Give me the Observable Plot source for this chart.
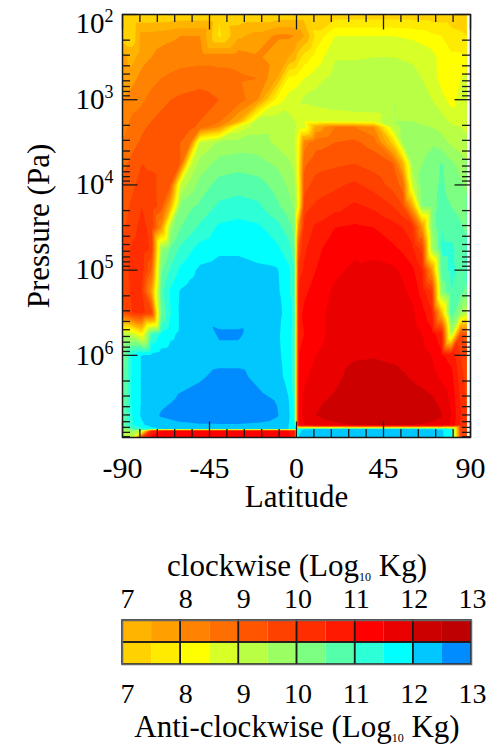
<!DOCTYPE html>
<html>
<head>
<meta charset="utf-8">
<script src="https://cdn.jsdelivr.net/npm/d3@7"></script>
<script src="https://cdn.jsdelivr.net/npm/@observablehq/plot@0.6"></script>
<style>
  body { margin: 0; background: #fff; }
  #chart { width: 495px; }
  #chart svg { display: block; }
</style>
</head>
<body>
<div id="chart"></div>
<script>
// Sample columns (degrees latitude)
const latitudes = [-90, -85, -80, -75, -70, -65, -60, -55, -50, -40, -30, -20, -10, -4, -1, 1, 4, 10, 20, 30, 40, 50, 55, 60, 65, 70, 75, 80, 85, 88];

// Sample rows: log10 of pressure in Pa (top of the domain to the surface)
const levelExponents = [2, 2.25, 2.5, 2.75, 3, 3.25, 3.32, 3.5, 3.75, 4, 4.25, 4.5, 4.75, 5, 5.25, 5.5, 5.75, 6, 6.25, 6.5, 6.7, 6.82, 6.865, 6.885, 6.964];

// Meridional overturning mass, log10 Kg, signed: > 0 clockwise, < 0 anti-clockwise
const circulation = [
  [-7.45, -7.45, -7.45, -7.45, -7.45, -7.45, -7.4, -7.4, -7.4, -7.45, -7.4, -7.4, -7.4, -7.35, -7.3, -7.3, -7.25, -7.2, -7.2, -7.2, -7.2, -7.2, -7.2, -7.2, -7.2, -7.2, -7.2, -7.2, -7.2, -7.2],
  [-7.3, -7.35, 7.7, 7.7, 7.8, 7.9, 8.0, 8.0, 8.0, -7.6, 7.4, 7.7, 8.1, 8.1, 8.0, 7.8, 7.5, -7.6, -8.5, -8.5, -8.5, -8.5, -8.45, -8.4, -8.3, -8.1, -8.0, -7.7, -7.6, -7.5],
  [7.7, 7.3, 7.8, 8.0, 8.2, 8.25, 8.3, 8.3, 8.3, 8.3, 8.3, 8.1, 7.7, 7.5, 7.3, -7.3, -7.7, -8.2, -8.95, -8.95, -9.0, -9.0, -8.95, -8.9, -8.8, -8.7, -8.3, -8.1, -8.1, -8.0],
  [7.8, 7.8, 8.2, 8.3, 8.5, 8.6, 8.7, 8.75, 8.8, 8.7, 8.6, 8.5, 7.5, -8.1, -8.2, -8.3, -8.5, -8.8, -9.2, -9.3, -9.3, -9.35, -9.3, -9.2, -9.0, -8.8, -8.3, -8.1, -8.5, -8.6],
  [8.0, 8.3, 8.4, 8.7, 8.9, 9.0, 9.1, 9.15, 9.2, 9.0, 8.8, 8.0, -8.2, -8.7, -8.8, -8.9, -9.1, -9.2, -9.3, -9.4, -9.45, -9.5, -9.4, -9.3, -9.15, -9.0, -8.7, -8.3, -8.7, -8.8],
  [8.2, 8.6, 8.8, 9.0, 9.1, 9.15, 9.2, 9.1, 9.0, 8.6, 7.5, -9.2, -9.3, -9.2, -9.0, -8.8, -8.5, -8.6, -8.7, -8.7, -8.7, -9.5, -9.5, -9.5, -9.4, -9.3, -9.2, -8.9, -8.8, -8.7],
  [8.3, 8.7, 8.9, 9.1, 9.2, 9.2, 9.2, 9.1, 8.9, 8.0, -8.6, -9.3, -9.35, -9.3, -9.1, -8.9, -8.8, 7.6, 8.5, 8.5, 8.0, -9.2, -9.6, -9.6, -9.55, -9.5, -9.35, -9.1, -9.0, -8.9],
  [8.5, 8.8, 9.1, 9.3, 9.3, 9.2, 9.0, 8.6, -9.0, -9.6, -9.7, -9.7, -9.4, -9.2, -9.0, -8.2, 8.3, 8.8, 9.0, 9.1, 8.8, -7.3, -9.6, -9.7, -9.8, -9.9, -9.7, -9.4, -9.2, -9.1],
  [8.8, 9.2, 9.5, 9.4, 9.3, 9.2, 9.0, -8.8, -9.7, -10.2, -10.3, -10.2, -9.9, -9.6, -9.3, -8.0, 8.9, 9.3, 9.4, 9.5, 9.3, 9.0, 7.3, -9.7, -10.0, -10.2, -10.55, -10.1, -9.8, -9.6],
  [9.1, 9.4, 9.7, 9.7, 9.3, 9.0, -9.0, -9.7, -10.2, -10.7, -10.8, -10.7, -10.3, -9.9, -9.6, -8.2, 9.3, 9.7, 9.9, 10.1, 9.8, 9.3, 8.8, -9.0, -10.2, -10.3, -10.6, -10.3, -10.1, -9.9],
  [9.3, 9.6, 10.0, 9.8, 9.3, 7.3, -10.1, -10.4, -10.6, -11.1, -11.2, -11.1, -10.6, -10.2, -9.9, -8.4, 9.8, 10.1, 10.3, 10.6, 10.4, 10.0, 9.5, 7.5, -10.0, -10.2, -10.7, -10.5, -10.3, -10.1],
  [9.4, 9.8, 10.2, 9.8, 8.0, -9.8, -10.5, -10.8, -11.1, -11.6, -11.7, -11.6, -11.2, -10.7, -10.3, 8.0, 10.2, 10.6, 11.0, 11.1, 11.0, 10.7, 10.5, 10.2, 8.0, -10.1, -11.0, -10.8, -10.6, -10.4],
  [9.6, 10.1, 10.3, 9.9, -9.8, -10.6, -11.1, -11.4, -11.7, -11.9, -11.9, -11.8, -11.6, -11.2, -10.5, 9.5, 10.4, 10.9, 11.2, 11.4, 11.3, 11.1, 10.9, 10.6, 9.8, -9.5, -11.1, -11.1, -10.8, -10.6],
  [9.7, 10.2, 10.3, 9.0, -10.4, -11.1, -11.6, -11.85, -12.1, -12.2, -12.2, -12.1, -12.05, -11.6, -11.0, 10.2, 10.6, 11.0, 11.4, 11.6, 11.7, 11.6, 11.4, 11.1, 10.5, 8.0, -10.8, -11.1, -10.9, -10.7],
  [9.7, 10.1, 10.0, 7.8, -10.8, -11.6, -12.05, -12.2, -12.3, -12.4, -12.4, -12.3, -12.1, -11.6, -11.1, 10.7, 10.9, 11.2, 11.6, 11.8, 11.9, 11.8, 11.6, 11.4, 10.8, 10.0, -10.1, -11.0, -10.7, -10.3],
  [9.3, 10.0, 10.1, 9.8, -10.4, -11.5, -12.1, -12.25, -12.4, -12.3, -12.3, -12.35, -12.15, -11.8, -11.3, 10.8, 11.1, 11.3, 11.7, 11.9, 11.9, 11.8, 11.7, 11.6, 11.2, 10.6, 7.2, -10.9, -9.8, -9.0],
  [-9.2, -9.0, -8.0, -11.0, -11.6, -11.9, -12.1, -12.15, -12.2, -12.56, -12.56, -12.3, -12.1, -11.7, -11.2, 10.8, 11.0, 11.3, 11.7, 11.9, 11.95, 11.9, 11.8, 11.7, 11.5, 11.2, 10.7, -9.5, 9.5, 9.3],
  [-10.2, -11.6, -12.05, -12.1, -12.2, -12.22, -12.25, -12.27, -12.3, -12.35, -12.35, -12.3, -12.15, -11.7, -11.2, 11.0, 11.2, 11.5, 11.8, 11.95, 11.97, 11.9, 11.85, 11.8, 11.65, 11.5, 11.1, 10.8, 10.0, 9.7],
  [-10.3, -11.6, -12.05, -12.2, -12.3, -12.32, -12.35, -12.4, -12.45, -12.6, -12.6, -12.4, -12.2, -11.8, -11.2, 11.1, 11.4, 11.7, 11.9, 12.15, 12.2, 12.15, 12.05, 11.95, 11.85, 11.7, 11.4, 11.2, 10.2, 9.8],
  [-10.4, -11.6, -12.05, -12.2, -12.35, -12.45, -12.55, -12.6, -12.65, -12.75, -12.75, -12.6, -12.45, -12.0, -11.3, 11.2, 11.6, 11.9, 12.05, 12.3, 12.35, 12.3, 12.25, 12.2, 12.15, 12.05, 11.8, 11.4, 10.4, 9.9],
  [-10.6, -11.5, -12.1, -12.3, -12.55, -12.62, -12.7, -12.75, -12.8, -12.85, -12.85, -12.8, -12.55, -12.1, -11.4, 11.3, 11.6, 12.0, 12.2, 12.35, 12.4, 12.4, 12.35, 12.3, 12.25, 12.2, 12.05, 11.5, 10.5, 10.0],
  [-10.6, -11.4, -11.9, -12.2, -12.3, -12.35, -12.4, -12.42, -12.45, -12.45, -12.45, -12.4, -12.3, -12.0, -11.5, 11.2, 11.5, 11.8, 11.9, 12.0, 12.05, 12.05, 12.05, 12.0, 11.95, 11.9, 11.8, 11.4, 10.4, 10.0],
  [-10.0, -10.8, -11.3, -11.8, -12.1, -12.15, -12.2, -12.22, -12.25, -12.25, -12.25, -12.2, -12.15, -12.0, -11.5, -11.6, -12.1, -12.2, -12.2, -12.2, -12.2, -12.2, -12.2, -12.2, -12.15, -12.1, -12.0, -11.5, 9.8, 9.5],
  [-9.2, -9.8, -9.0, 10.5, 11.0, 11.1, 11.2, 11.25, 11.3, 11.3, 11.3, 11.3, 11.2, 11.0, 10.7, -11.8, -12.2, -12.3, -12.3, -12.3, -12.3, -12.3, -12.3, -12.3, -12.3, -12.3, -12.1, -11.6, 9.8, 9.5],
  [-8.8, -8.9, 10.0, 11.2, 11.4, 11.4, 11.4, 11.42, 11.45, 11.45, 11.4, 11.4, 11.3, 11.1, 10.8, -12.0, -12.3, -12.35, -12.4, -12.4, -12.4, -12.35, -12.35, -12.3, -12.25, -12.2, -12.1, -11.5, 9.8, 9.5]
];

// Axis ticks
const latTicks = [-90, -45, 0, 45, 90];
const latMinorTicks = [-81, -72, -63, -54, -36, -27, -18, -9, 9, 18, 27, 36, 54, 63, 72, 81];
const pressureTicks = [1e2, 1e3, 1e4, 1e5, 1e6];
const pressureMinorTicks = [
  2e2, 3e2, 4e2, 5e2, 6e2, 7e2, 8e2, 9e2,
  2e3, 3e3, 4e3, 5e3, 6e3, 7e3, 8e3, 9e3,
  2e4, 3e4, 4e4, 5e4, 6e4, 7e4, 8e4, 9e4,
  2e5, 3e5, 4e5, 5e5, 6e5, 7e5, 8e5, 9e5,
  2e6, 3e6, 4e6, 5e6, 6e6, 7e6, 8e6, 9e6
];

// Colour bands (log10 Kg) and their colours for each sense of rotation
const bandEdges = [7, 7.5, 8, 8.5, 9, 9.5, 10, 10.5, 11, 11.5, 12, 12.5, 13];
const clockwiseColors = ["#ffb400", "#ffa000", "#ff8200", "#ff6e00", "#ff5500", "#ff4100", "#ff2d00", "#ff1900", "#ff0000", "#eb0000", "#cd0000", "#be0000"];
const antiClockwiseColors = ["#ffd200", "#ffeb00", "#ffff00", "#d7ff28", "#b9ff46", "#9bff64", "#7dff82", "#55ffaa", "#2dffd7", "#00ffff", "#00c8ff", "#008cff"];
const colorbarLabels = [7, 8, 9, 10, 11, 12, 13];

// Both senses share one signed axis: distance above the 10^7 Kg floor,
// positive for clockwise and negative for anti-clockwise.
const floor = bandEdges[0];
const signedBand = (psi) => Math.sign(psi) * (Math.abs(psi) - floor);

const nBands = bandEdges.length - 1;
const thresholds = [];
const bandColors = [];
for (let k = nBands - 1; k >= 0; k--) { thresholds.push(-(bandEdges[k + 1] - floor)); bandColors.push(antiClockwiseColors[k]); }
for (let k = 0; k < nBands; k++) { thresholds.push(bandEdges[k] - floor); bandColors.push(clockwiseColors[k]); }

const samples = [];
levelExponents.forEach((e, i) => {
  latitudes.forEach((lat, j) => samples.push({lat, pressure: 10 ** e, psi: circulation[i][j]}));
});

const serif = "'Liberation Serif', 'Times New Roman', serif";
const ink = "#1a1a1a";
const W = 495, H = 520;
const mTop = 14, mBottom = 83, mLeft = 122, mRight = 25;
const frameW = W - mLeft - mRight, frameH = H - mTop - mBottom;
const majorLen = 15.5, minorLen = 8;
const pTop = 100, pBottom = 9.2e6;

const main = Plot.plot({
  width: W, height: H,
  marginTop: mTop, marginBottom: mBottom, marginLeft: mLeft, marginRight: mRight,
  style: {fontFamily: serif, background: "white", color: "black"},
  x: {domain: [-90, 90]},
  y: {type: "log", domain: [pTop, pBottom], reverse: true},
  color: {type: "threshold", domain: thresholds.slice(1), range: bandColors},
  marks: [
    Plot.contour(samples, {
      x: "lat", y: "pressure", fill: d => signedBand(d.psi),
      thresholds, interpolate: "barycentric", pixelSize: 1, blur: 0,
      x1: latitudes[0], x2: latitudes[latitudes.length - 1], y1: pTop, y2: pBottom
    }),
    // inward ticks on all four sides
    Plot.tickX(latTicks, {x: d => d, insetBottom: frameH - majorLen, stroke: ink, strokeWidth: 1.3}),
    Plot.tickX(latMinorTicks, {x: d => d, insetBottom: frameH - minorLen, stroke: ink, strokeWidth: 1.3}),
    Plot.tickX(latTicks, {x: d => d, insetTop: frameH - majorLen, stroke: ink, strokeWidth: 1.3}),
    Plot.tickX(latMinorTicks, {x: d => d, insetTop: frameH - minorLen, stroke: ink, strokeWidth: 1.3}),
    Plot.tickY(pressureTicks, {y: d => d, insetRight: frameW - majorLen, stroke: ink, strokeWidth: 1.3}),
    Plot.tickY(pressureMinorTicks, {y: d => d, insetRight: frameW - minorLen, stroke: ink, strokeWidth: 1.3}),
    Plot.tickY(pressureTicks, {y: d => d, insetLeft: frameW - majorLen, stroke: ink, strokeWidth: 1.3}),
    Plot.tickY(pressureMinorTicks, {y: d => d, insetLeft: frameW - minorLen, stroke: ink, strokeWidth: 1.3}),
    Plot.frame({stroke: ink, strokeWidth: 1.5}),
    Plot.axisX(latTicks, {tickSize: 0, tickPadding: 19, fontSize: 30, fontFamily: serif, tickFormat: d => String(d), label: null}),
    Plot.axisY(pressureTicks.slice(0, 1), {tickSize: 0, tickPadding: 9, fontSize: 29, fontFamily: serif, dy: 9, label: null,
      tickFormat: d => "10^" + Math.round(Math.log10(d))}),
    Plot.axisY(pressureTicks.slice(1), {tickSize: 0, tickPadding: 9, fontSize: 29, fontFamily: serif, label: null,
      tickFormat: d => "10^" + Math.round(Math.log10(d))}),
    Plot.text(["Pressure (Pa)"], {text: d => d, frameAnchor: "left", textAnchor: "middle", lineAnchor: "middle",
      rotate: -90, dx: -83, fontSize: 31, fontFamily: serif}),
    Plot.text(["Latitude"], {text: d => d, frameAnchor: "bottom", lineAnchor: "middle", dy: 59.5, fontSize: 31, fontFamily: serif})
  ]
});

// Colour bar: two rows of bands, clockwise above and anti-clockwise below
const rows = ["clockwise", "anti-clockwise"];
const legendCells = [];
for (let i = 0; i < nBands; i++) {
  legendCells.push({row: rows[0], lo: bandEdges[i], hi: bandEdges[i + 1], color: clockwiseColors[i]});
  legendCells.push({row: rows[1], lo: bandEdges[i], hi: bandEdges[i + 1], color: antiClockwiseColors[i]});
}
const legendBlocks = [];
for (let i = 0; i < colorbarLabels.length - 1; i++) {
  for (const row of rows) legendBlocks.push({row, lo: colorbarLabels[i], hi: colorbarLabels[i + 1]});
}
const oneDigit = colorbarLabels.filter(d => d < 10);
const twoDigit = colorbarLabels.filter(d => d >= 10);
const LH = 230;
const barLabel = {tickSize: 0, fontSize: 28, fontFamily: serif, tickFormat: d => String(d), label: null};

const legend = Plot.plot({
  width: W, height: LH,
  marginTop: 100, marginBottom: 86, marginLeft: 122, marginRight: 24,
  style: {fontFamily: serif, background: "white", color: "black"},
  x: {domain: [colorbarLabels[0], colorbarLabels[colorbarLabels.length - 1]]},
  y: {type: "band", domain: rows, padding: 0, axis: null},
  marks: [
    Plot.barX(legendCells, {x1: "lo", x2: "hi", y: "row", fill: "color"}),
    Plot.barX(legendBlocks, {x1: "lo", x2: "hi", y: "row", fill: "none", stroke: ink, strokeWidth: 1.5}),
    Plot.frame({stroke: "#666", strokeWidth: 1.5}),
    Plot.axisX(oneDigit, {...barLabel, anchor: "top", tickPadding: 13, dx: 5}),
    Plot.axisX(twoDigit, {...barLabel, anchor: "top", tickPadding: 13, dx: 1}),
    Plot.axisX(oneDigit, {...barLabel, anchor: "bottom", tickPadding: 19, dx: 5}),
    Plot.axisX(twoDigit, {...barLabel, anchor: "bottom", tickPadding: 19, dx: 1}),
    Plot.text(["clockwise (Log10 Kg)"], {text: d => d, frameAnchor: "top", lineAnchor: "middle", dy: -54, fontSize: 31, fontFamily: serif}),
    Plot.text(["Anti-clockwise (Log10 Kg)"], {text: d => d, frameAnchor: "bottom", lineAnchor: "middle", dy: 62.5, fontSize: 31, fontFamily: serif})
  ]
});

const svgNS = "http://www.w3.org/2000/svg";

// Powers of ten on the pressure axis: raise the exponent
main.querySelectorAll('g[aria-label="y-axis tick label"] text').forEach(t => {
  const [base, exp] = t.textContent.split("^");
  if (exp === undefined) return;
  t.textContent = base;
  const sup = document.createElementNS(svgNS, "tspan");
  sup.setAttribute("dy", "-11");
  sup.setAttribute("font-size", "18");
  sup.textContent = exp;
  t.appendChild(sup);
});

// Colour bar titles: lower the "10" of Log10
legend.querySelectorAll("text").forEach(t => {
  const s = t.textContent;
  if (!s.includes("Log10")) return;
  const [before, after] = s.split("Log10");
  t.textContent = before + "Log";
  const sub = document.createElementNS(svgNS, "tspan");
  sub.setAttribute("dy", "5");
  sub.setAttribute("font-size", "12");
  sub.textContent = "10";
  const rest = document.createElementNS(svgNS, "tspan");
  rest.setAttribute("dy", "-5");
  rest.textContent = after;
  t.appendChild(sub);
  t.appendChild(rest);
});

const chart = document.getElementById("chart");
chart.appendChild(main);
chart.appendChild(legend);
</script>
</body>
</html>
